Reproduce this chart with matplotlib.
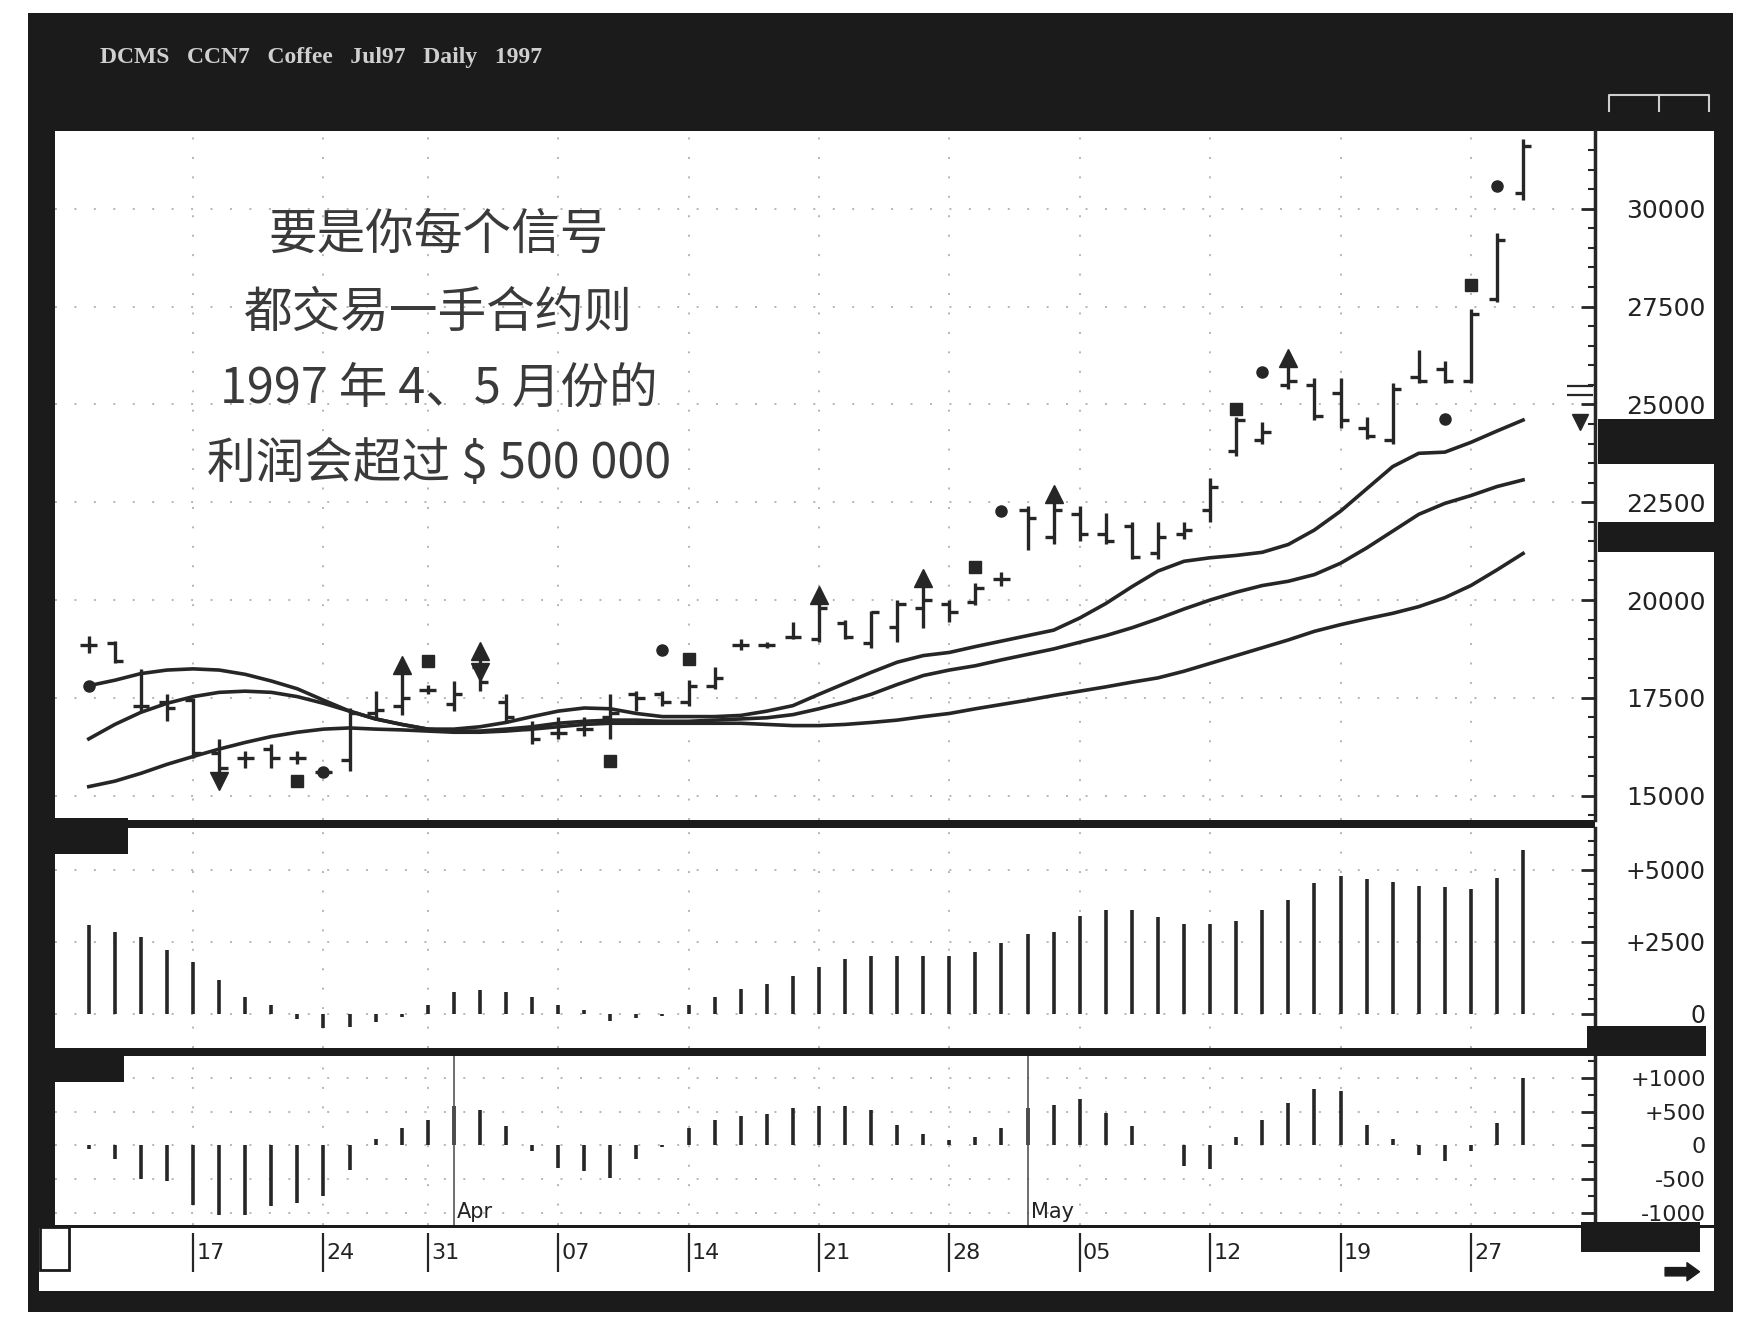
import numpy as np
import matplotlib.pyplot as plt
from matplotlib.patches import Rectangle
from matplotlib.ticker import MultipleLocator

# ---- data (Coffee Jul97, daily, 11 Mar - 29 May 1997) ----
week_idx = [4, 9, 13, 18, 23, 28, 33, 38, 43, 48, 53]
week_labels = ['17', '24', '31', '07', '14', '21', '28', '05', '12', '19', '27']
month_idx = [14, 36]
month_labels = ['Apr', 'May']

highs = [19090, 18950, 18240, 17590, 17500, 16450, 16140, 16310, 16140, 15710,
         17240, 17670, 18350, 17840, 17930, 18690, 17590, 16900, 17020, 17020,
         17590, 17670, 17670, 17950, 18290, 19000, 18920, 19430, 20140, 19490,
         19720, 20000, 20570, 20000, 20430, 20710, 22410, 22700, 22410, 22220,
         21990, 21990, 21990, 23120, 24690, 24550, 26190, 25680, 25680, 24690,
         25540, 26390, 26110, 27440, 29370, 31790]
lows = [18640, 18380, 17160, 16900, 15970, 15370, 15710, 15710, 15800, 15510,
        15620, 16990, 17070, 17590, 17160, 17670, 16900, 16310, 16450, 16530,
        16450, 17160, 17300, 17300, 17730, 18720, 18780, 19000, 18920, 19000,
        18780, 18920, 19290, 19430, 19860, 20370, 21280, 21420, 21510, 21420,
        21050, 21050, 21560, 21990, 23690, 23980, 25400, 24600, 24400, 24120,
        23980, 25540, 25540, 25540, 27610, 30230]
opens = [18860, 18900, 17300, 17400, 17450, 16100, 15950, 16200, 15950, 15600,
         15900, 17100, 17300, 17700, 17350, 18300, 17400, 16700, 16600, 16700,
         17000, 17600, 17600, 17400, 17800, 18850, 18850, 19050, 19000, 19400,
         18900, 19300, 19800, 19900, 19950, 20550, 22300, 21600, 22200, 21700,
         21900, 21200, 21700, 22300, 23800, 24100, 25500, 25500, 25300, 24400,
         24100, 25700, 25900, 25600, 27700, 30400]
closes = [18860, 18450, 17300, 17250, 16100, 15700, 15950, 15950, 15950, 15600,
          17100, 17200, 17500, 17700, 17600, 17900, 17000, 16450, 16600, 16700,
          17100, 17500, 17400, 17800, 18000, 18850, 18850, 19050, 19800, 19050,
          19700, 19900, 20000, 19700, 20300, 20550, 22100, 22300, 21700, 21500,
          21100, 21600, 21800, 22900, 24600, 24300, 25600, 24700, 24600, 24200,
          25400, 25600, 25600, 27300, 29200, 31600]

ma_fast = [17810, 17950, 18120, 18210, 18240, 18210, 18100, 17930, 17730, 17440,
           17160, 16960, 16820, 16700, 16700, 16760, 16870, 17020, 17160, 17240,
           17220, 17100, 17020, 17020, 17020, 17050, 17160, 17300, 17590, 17870,
           18150, 18410, 18580, 18660, 18810, 18950, 19090, 19230, 19540, 19910,
           20340, 20740, 20990, 21080, 21140, 21220, 21420, 21790, 22270, 22840,
           23410, 23750, 23780, 24030, 24320, 24600]
ma_mid = [16450, 16820, 17130, 17360, 17530, 17640, 17670, 17640, 17530, 17360,
          17160, 16960, 16820, 16700, 16650, 16650, 16700, 16760, 16850, 16900,
          16930, 16930, 16900, 16900, 16930, 16960, 16990, 17070, 17220, 17390,
          17590, 17840, 18070, 18210, 18320, 18470, 18610, 18750, 18920, 19090,
          19290, 19520, 19770, 20000, 20200, 20370, 20480, 20650, 20940, 21330,
          21760, 22190, 22470, 22670, 22900, 23070]
ma_slow = [15230, 15370, 15570, 15800, 16000, 16190, 16360, 16510, 16620, 16700,
           16730, 16700, 16680, 16650, 16620, 16620, 16650, 16700, 16760, 16820,
           16850, 16850, 16850, 16850, 16850, 16850, 16820, 16790, 16790, 16820,
           16870, 16930, 17020, 17100, 17220, 17330, 17440, 17560, 17670, 17780,
           17900, 18010, 18180, 18380, 18580, 18780, 18980, 19200, 19370, 19520,
           19660, 19830, 20060, 20370, 20770, 21190]

hist = [3070, 2840, 2680, 2200, 1810, 1180, 590, 310, -200, -500,
        -470, -280, -120, 310, 750, 830, 750, 590, 310, 120,
        -240, -160, -80, 310, 590, 870, 1020, 1300, 1610, 1890,
        2010, 2010, 2010, 2010, 2130, 2440, 2760, 2840, 3390, 3590,
        3590, 3350, 3110, 3110, 3230, 3590, 3940, 4530, 4770, 4690,
        4570, 4450, 4410, 4330, 4730, 5670]
mom = [-50, -200, -500, -530, -880, -1030, -1030, -900, -850, -750,
       -370, 100, 250, 370, 580, 530, 280, -80, -330, -380,
       -480, -200, -30, 250, 380, 430, 470, 550, 580, 580,
       530, 300, 170, 80, 130, 260, 550, 600, 680, 480,
       280, 0, -300, -350, 130, 380, 620, 830, 800, 300,
       100, -150, -230, -80, 330, 1000]

# signal marks
up_idx = [12, 15, 28, 32, 37, 46]
down_idx = [5, 15]
down_y = [15370, 18150]
square_idx = [8, 13, 20, 23, 34, 44, 53]
square_y = [15370, 18440, 15880, 18490, 20850, 24890, 28040]
dot_idx = [0, 9, 22, 35, 45, 52, 54]
dot_y = [17810, 15600, 18720, 22270, 25820, 24630, 30570]

price_ticks = [15000, 17500, 20000, 22500, 25000, 27500, 30000]
hist_ticks = [0, 2500, 5000]
hist_labels = ['0', '+2500', '+5000']
mom_ticks = [-1000, -500, 0, 500, 1000]
mom_labels = ['-1000', '-500', '0', '+500', '+1000']

title = 'DCMS   CCN7   Coffee   Jul97   Daily   1997'
note = ['要是你每个信号', '都交易一手合约则', '1997 年 4、5 月份的', '利润会超过 $ 500 000']

DARK = '#1b1b1b'
INK = '#262626'
W, H = 1568, 1194  # layout grid of the scan


def box(x0, y0, x1, y1):
    return [x0 / W, 1 - y1 / H, (x1 - x0) / W, (y1 - y0) / H]


def rect(ax, x0, y0, x1, y1, color, **kw):
    ax.add_patch(Rectangle((x0, y0), x1 - x0, y1 - y0, facecolor=color,
                           edgecolor='none', **kw))


def right_scale(ax, ticks, labels, fs, minor):
    ax.yaxis.tick_right()
    ax.set_yticks(ticks)
    ax.set_yticklabels(labels)
    ax.yaxis.set_minor_locator(MultipleLocator(minor))
    ax.tick_params(axis='y', which='major', direction='in', length=10, width=2,
                   color=INK, pad=80, labelsize=fs, labelcolor='#222222')
    ax.tick_params(axis='y', which='minor', direction='in', length=5, width=1.5, color=INK)
    for t in ax.get_yticklabels():
        t.set_horizontalalignment('right')
    for s in ['left', 'top', 'bottom']:
        ax.spines[s].set_visible(False)
    ax.spines['right'].set_linewidth(2.5)
    ax.spines['right'].set_color(INK)
    ax.set_xticks(week_idx)
    ax.tick_params(axis='x', length=0, labelbottom=False)
    ax.grid(True, which='major', color='#b5b5b5', linestyle=(0, (1, 9)), lw=1.4)
    ax.set_xlim(xlim)


plt.rcParams['font.family'] = ['DejaVu Sans']
fig = plt.figure(figsize=(17.4, 13.25), dpi=100)
fig.patch.set_facecolor('white')

xlim = ((50 - 80) / 23.5, (1437 - 80) / 23.5)
x = np.arange(len(highs))

# scan frame
bg = fig.add_axes([0, 0, 1, 1], zorder=0)
bg.set_xlim(0, W)
bg.set_ylim(H, 0)
bg.axis('off')
rect(bg, 25, 12, 1562, 1182, DARK)
rect(bg, 1437, 118, 1545, 1104, 'white')
rect(bg, 35, 1107, 1545, 1163, 'white')
bg.text(90, 52, title, color='#cfcfcf', fontsize=17, fontweight='bold',
        family='Liberation Serif', va='center', ha='left')
bg.plot([1450, 1450, 1540, 1540], [100, 86, 86, 100], color='#cfcfcf', lw=1.5)
bg.plot([1495, 1495], [86, 100], color='#cfcfcf', lw=1.5)

# price panel
ax1 = fig.add_axes(box(50, 118, 1437, 739), zorder=2)
ax1.set_ylim(14375, 31990)
right_scale(ax1, price_ticks, [str(t) for t in price_ticks], 18, 500)
ax1.plot(x, ma_fast, color=INK, lw=2.6)
ax1.plot(x, ma_mid, color=INK, lw=2.6)
ax1.plot(x, ma_slow, color=INK, lw=2.6)
ax1.vlines(x, lows, highs, color=INK, lw=2.4)
ax1.hlines(opens, x - 0.32, x, color=INK, lw=2.4)
ax1.hlines(closes, x, x + 0.32, color=INK, lw=2.4)
ax1.plot(up_idx, [highs[i] for i in up_idx], '^', ms=13, color=INK, mec=INK)
ax1.plot(down_idx, down_y, 'v', ms=13, color=INK, mec=INK)
ax1.plot(square_idx, square_y, 's', ms=9, color=INK, mec=INK)
ax1.plot(dot_idx, dot_y, 'o', ms=8, color=INK, mec=INK)
ax1.plot(57.2, 24550, 'v', ms=12, color=INK)
ax1.hlines([25480, 25230], 56.7, 57.7, color=INK, lw=1.6)
for k, line in enumerate(note):
    ax1.text(0.249, [0.849, 0.736, 0.626, 0.517][k], line, transform=ax1.transAxes,
             ha='center', va='center', fontsize=35, color='#3a3a3a',
             family=['Noto Sans CJK SC', 'DejaVu Sans'])

# histogram panel
ax2 = fig.add_axes(box(50, 746, 1437, 944), zorder=2)
ax2.set_ylim(-1181, 6457)
right_scale(ax2, hist_ticks, hist_labels, 17, 500)
ax2.vlines(x, 0, hist, color=INK, lw=2.6)

# oscillator panel
ax3 = fig.add_axes(box(50, 952, 1437, 1104), zorder=2)
ax3.set_ylim(-1183, 1317)
right_scale(ax3, mom_ticks, mom_labels, 16, 250)
ax3.vlines(x, 0, mom, color=INK, lw=2.6)
ax3.vlines(month_idx, -1183, 1317, color='#555555', lw=1.2)
for i, lab in zip(month_idx, month_labels):
    ax3.text(i + 0.12, 0.02, lab, transform=ax3.get_xaxis_transform(),
             fontsize=15, color='#222222', va='bottom', ha='left')

# date strip
ax4 = fig.add_axes(box(50, 1107, 1437, 1163), zorder=2)
ax4.set_xlim(xlim)
ax4.set_ylim(0, 1)
ax4.axis('off')
ax4.vlines(week_idx, 0.3, 0.92, color=INK, lw=1.6)
for i, lab in zip(week_idx, week_labels):
    ax4.text(i + 0.12, 0.6, lab, fontsize=16, color='#222222', va='center', ha='left')

# overlay marks of the trading screen
ov = fig.add_axes([0, 0, 1, 1], zorder=5)
ov.set_xlim(0, W)
ov.set_ylim(H, 0)
ov.axis('off')
rect(ov, 42, 737, 115, 770, DARK)
rect(ov, 42, 945, 112, 975, DARK)
rect(ov, 1440, 378, 1545, 418, DARK)
rect(ov, 1440, 470, 1545, 497, DARK)
rect(ov, 1430, 925, 1537, 952, DARK)
rect(ov, 1425, 1101, 1532, 1128, DARK)
ov.add_patch(Rectangle((36, 1106), 26, 38, facecolor='white', edgecolor=DARK, lw=2))
ov.annotate('', xy=(1534, 1146), xytext=(1498, 1146),
            arrowprops=dict(arrowstyle='simple,head_width=1.3,head_length=0.9,tail_width=0.6',
                            color=DARK))

fig.savefig('out.png', dpi=100)
